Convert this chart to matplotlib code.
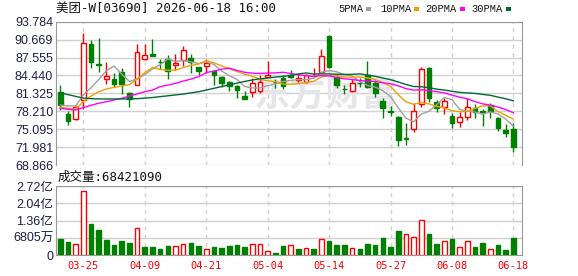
import matplotlib
matplotlib.use('Agg')
import matplotlib.pyplot as plt
import numpy as np
from matplotlib.patches import Rectangle

# ---------------- data ----------------
dates = ['03-20', '03-23', '03-24', '03-25', '03-26', '03-27', '03-30', '03-31', '04-01', '04-02',
         '04-08', '04-09', '04-10', '04-13', '04-14', '04-15', '04-16', '04-17', '04-20', '04-21',
         '04-22', '04-23', '04-24', '04-27', '04-28', '04-29', '04-30', '05-04', '05-05', '05-06',
         '05-07', '05-08', '05-11', '05-12', '05-13', '05-14', '05-15', '05-18', '05-19', '05-20',
         '05-21', '05-22', '05-26', '05-27', '05-28', '05-29', '06-01', '06-02', '06-03', '06-04',
         '06-05', '06-08', '06-09', '06-10', '06-11', '06-12', '06-15', '06-16', '06-17', '06-18']

opens = [81.6, 77.75, 76.83, 80.1, 89.98, 86.4, 83.86, 83.75, 84.96, 81.33,
         82.71, 87.32, 88.25, 86.8, 87.38, 86.17, 87.09, 87.55, 85.88, 86.05,
         85.19, 84.21, 83.34, 82.59, 80.86, 81.56, 81.79, 84.21, 83.35, 83.98,
         84.5, 83.6, 83.34, 84.3, 84.96, 91.3, 84.2, 82.15, 81.67, 83.2,
         84.44, 83.17, 80.0, 78.2, 77.29, 73.5, 75.21, 79.42, 85.65, 79.77,
         79.02, 77.4, 76.3, 77.17, 78.73, 78.2, 79.31, 77.06, 74.98, 75.15]
highs = [82.8, 78.33, 79.13, 91.9, 90.67, 90.9, 86.69, 84.79, 85.65, 81.56,
         89.98, 89.86, 90.84, 87.3, 87.96, 88.25, 89.57, 88.25, 85.9, 87.27,
         85.36, 84.33, 83.52, 82.71, 81.79, 83.98, 84.5, 86.98, 83.8, 84.5,
         85.36, 84.79, 84.7, 85.7, 89.11, 91.5, 84.6, 82.77, 83.86, 84.0,
         86.92, 83.63, 80.46, 79.13, 77.4, 76.13, 79.6, 85.94, 85.94, 80.17,
         80.46, 77.98, 78.15, 80.46, 79.48, 78.56, 79.71, 77.17, 75.96, 76.13]
lows = [78.4, 75.85, 76.7, 78.6, 85.65, 85.1, 82.88, 82.46, 81.21, 78.9,
        82.7, 87.09, 87.78, 85.6, 83.8, 85.36, 86.05, 84.79, 84.5, 84.79,
        82.82, 82.48, 81.79, 80.57, 80.28, 80.75, 81.33, 84.1, 82.25, 82.1,
        83.92, 83.29, 83.06, 84.2, 84.79, 85.7, 82.3, 81.27, 81.5, 82.4,
        82.2, 80.63, 77.1, 77.4, 72.21, 72.33, 74.52, 79.02, 79.77, 78.04,
        77.81, 75.27, 75.56, 76.71, 76.99, 75.67, 77.11, 74.81, 73.71, 71.06]
closes = [79.25, 76.6, 78.9, 90.0, 86.8, 86.3, 84.33, 83.0, 82.88, 80.4,
          88.59, 88.07, 87.84, 86.7, 85.25, 86.52, 88.82, 86.75, 85.13, 86.63,
          84.44, 83.17, 82.65, 81.9, 80.4, 83.17, 83.3, 84.5, 83.3, 82.6,
          84.21, 84.0, 84.45, 84.4, 87.78, 85.85, 82.8, 82.1, 83.06, 83.05,
          82.48, 81.44, 78.84, 78.1, 73.25, 73.45, 78.27, 85.48, 80.57, 78.73,
          80.0, 76.25, 77.17, 78.9, 78.1, 78.0, 78.33, 75.38, 74.4, 71.92]
# volume in 万股
volumes = [6310, 5260, 4340, 25250, 12360, 9860, 6050, 3950, 5650, 4870,
           10520, 3160, 3160, 2370, 3550, 3420, 4210, 4730, 3550, 2370,
           3160, 2760, 3550, 3950, 3160, 4340, 4340, 1580, 790, 3550,
           3800, 2370, 2760, 2370, 6180, 5520, 3950, 3950, 2760, 2370,
           4340, 3950, 6710, 3160, 9470, 8280, 6970, 13810, 8280, 4340,
           5520, 6310, 3160, 5520, 3160, 4730, 2370, 3950, 1970, 6842]

# moving-average values before a full window is available
ma5_head = [79.3, 79.13, 79.13, 81.04]
ma10_head = [78.9, 78.73, 78.56, 79.88, 80.86, 81.61, 82.08, 82.37, 82.6]
ma20_head = [78.73, 78.56, 78.44, 78.84, 79.25, 79.6, 79.88, 80.17, 80.46, 80.86,
             81.21, 81.61, 81.9, 82.48, 82.77, 83.06, 83.46, 83.8, 84.21]
ma30_head = [81.4, 81.1, 80.8, 80.5, 80.4, 80.35, 80.35, 80.35, 80.35, 80.35,
             80.4, 80.5, 80.6, 80.75, 80.9, 81.05, 81.2, 81.4, 81.6, 81.9,
             82.2, 82.5, 82.8, 83.1, 83.4, 83.65, 83.85, 84.0, 84.15]

price_ticks = [68.866, 71.981, 75.095, 78.210, 81.325, 84.440, 87.555, 90.669, 93.784]
vol_ticks = [0, 6805, 13610, 20415, 27220]
vol_tick_labels = ['0', '6805万', '1.36亿', '2.04亿', '2.72亿']
date_labels = ['03-25', '04-09', '04-21', '05-04', '05-14', '05-27', '06-08', '06-18']
ma_names = ['5PMA', '10PMA', '20PMA', '30PMA']
title = '美团-W[03690] 2026-06-18 16:00'
vol_title = '成交量:68421090'
watermark = '东方财富'

# ---------------- styling ----------------
RED = '#ff0000'
GREEN = '#008000'
MA_COLORS = ['#a0a0a0', '#f0a000', '#ff00ff', '#006a34']
GRID = '#d0d0d0'
FRAME = '#999999'
TICKC = '#1e1e46'

plt.rcParams['font.family'] = ['Liberation Sans', 'Noto Sans CJK SC']

W, H = 578, 276
fig = plt.figure(figsize=(W / 100, H / 100), dpi=100)


def fx(px):
    return px / W


def fy(py):
    return 1 - py / H


n = len(closes)
x = np.arange(n)
o = np.array(opens); c = np.array(closes); h = np.array(highs); l = np.array(lows)
v = np.array(volumes)


def moving_avg(period, head):
    vals = list(head)
    for i in range(period - 1, n):
        vals.append(np.mean(c[i - period + 1:i + 1]))
    return np.array(vals)


mas = [moving_avg(5, ma5_head), moving_avg(10, ma10_head),
       moving_avg(20, ma20_head), moving_avg(30, ma30_head)]

xlim = (-0.56, 60.12)
tick_pos = [dates.index(d) for d in date_labels]

# ---------------- price axes ----------------
ax = fig.add_axes([fx(56), fy(165), fx(522) - fx(56), fy(21.7) - fy(165)])
ax.set_xlim(*xlim)
ax.set_ylim(price_ticks[0], price_ticks[-1])
for t in price_ticks:
    ax.axhline(t, color=GRID, lw=1, zorder=0)
for p in tick_pos:
    ax.axvline(p, color=GRID, lw=1, ls=(0, (3, 3)), zorder=0)

# watermark (logo text), placed in axes-fraction coordinates
ax.text(0.58, 0.49, watermark, fontsize=26, fontweight='bold', color='#e6e6ea',
        family=['Noto Sans CJK SC'], ha='center', va='center', zorder=0.5,
        transform=ax.transAxes)

up = c >= o
body_w = 0.62
top = np.maximum(o, c); bot = np.minimum(o, c)
ax.vlines(x[up], h[up], top[up], color=RED, lw=1, zorder=2)
ax.vlines(x[up], bot[up], l[up], color=RED, lw=1, zorder=2)
ax.vlines(x[~up], l[~up], h[~up], color=GREEN, lw=1, zorder=2)
ax.bar(x[up], (c - o)[up], bottom=o[up], width=body_w, facecolor='white',
       edgecolor=RED, lw=1, zorder=3)
ax.bar(x[~up], (o - c)[~up], bottom=c[~up], width=body_w, facecolor=GREEN,
       edgecolor=GREEN, lw=1, zorder=3)

for m, col in zip(mas, MA_COLORS):
    ax.plot(x, m, color=col, lw=1, zorder=4)

ax.set_xticks([])
ax.set_yticks(price_ticks)
ax.set_yticklabels([f'{t:.3f}' for t in price_ticks], fontsize=9, color=TICKC)
ax.tick_params(axis='y', length=0, pad=2)
for s in ax.spines.values():
    s.set_color(FRAME)
ax.spines['bottom'].set_visible(False)

# ---------------- volume axes ----------------
av = fig.add_axes([fx(56), fy(255), fx(522) - fx(56), fy(186) - fy(255)])
av.set_xlim(*xlim)
av.set_ylim(0, vol_ticks[-1])
for t in vol_ticks[1:]:
    av.axhline(t, color=GRID, lw=1, zorder=0)
for p in tick_pos:
    av.axvline(p, color=GRID, lw=1, ls=(0, (3, 3)), zorder=0)

prev = np.concatenate([[o[0]], c[:-1]])
vup = c >= prev
av.bar(x[vup], v[vup], width=0.6, facecolor='white', edgecolor=RED, lw=1, zorder=3)
av.bar(x[~vup], v[~vup], width=0.6, facecolor=GREEN, edgecolor=GREEN, lw=1, zorder=3)

av.set_yticks(vol_ticks)
av.set_yticklabels(vol_tick_labels, fontsize=9, color=TICKC)
av.tick_params(axis='y', length=0, pad=2)
av.set_xticks(tick_pos)
av.set_xticklabels(date_labels, fontsize=7.5, color=RED, family=['DejaVu Sans Mono'])
av.tick_params(axis='x', length=0, pad=4)
for s in av.spines.values():
    s.set_color(FRAME)

# ---------------- texts ----------------
fig.text(fx(56), fy(8.5), title, fontsize=9, color='#111111', va='center', ha='left',
         family=['DejaVu Sans Mono', 'Noto Sans CJK SC'])
fig.text(fx(58), fy(177), vol_title, fontsize=9, color='#111111', va='center', ha='left',
         family=['DejaVu Sans Mono', 'Noto Sans CJK SC'])

leg_x = [338, 380, 425, 471.5]
sq_x = [365.5, 413.5, 460, 505.5]
for name, col, lx, sx in zip(ma_names, MA_COLORS, leg_x, sq_x):
    fig.text(fx(lx), fy(8.5), name, fontsize=7.5, color='#111111', va='center', ha='left',
             family=['Liberation Mono'])
    fig.add_artist(Rectangle((fx(sx), fy(10.5)), fx(5), 3.5 / H, transform=fig.transFigure,
                             facecolor=col, edgecolor='none'))

fig.savefig('out.png', dpi=100)
